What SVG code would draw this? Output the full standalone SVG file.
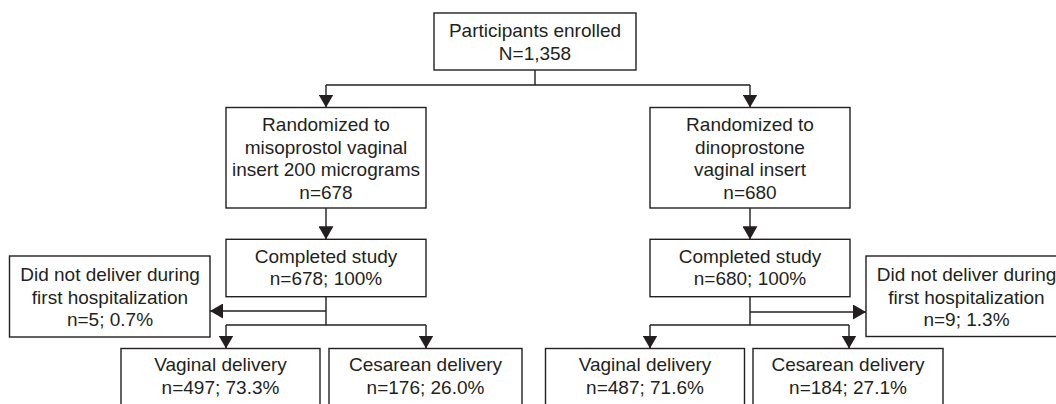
<svg xmlns="http://www.w3.org/2000/svg" width="1056" height="404" viewBox="0 0 1056 404">
<style>
.box{fill:#fff;stroke:#231f20;stroke-width:1.4}
.ln{fill:none;stroke:#231f20;stroke-width:1.4}
text{font-family:"Liberation Sans",Arial,Helvetica,sans-serif;font-size:19px;fill:#231f20;text-anchor:middle}
</style>
<defs>
<marker id="ah" markerUnits="userSpaceOnUse" markerWidth="13" markerHeight="15" viewBox="0 0 13 15" refX="13" refY="7.5" orient="auto">
<path d="M0,0 L13,7.5 L0,15 z" fill="#231f20"/>
</marker>
</defs>
<rect width="1056" height="404" fill="#fff"/>
<g id="connectors">
<path class="ln" d="M535,70 V85 M326,85 H750"/>
<path class="ln" d="M326,85 V107.5" marker-end="url(#ah)"/>
<path class="ln" d="M750,85 V107.5" marker-end="url(#ah)"/>
<path class="ln" d="M326,208 V239.3" marker-end="url(#ah)"/>
<path class="ln" d="M750,208 V239.3" marker-end="url(#ah)"/>
<path class="ln" d="M326,296.7 V325 M226,325 H426"/>
<path class="ln" d="M326,311 H210" marker-end="url(#ah)"/>
<path class="ln" d="M226,325 V348.5" marker-end="url(#ah)"/>
<path class="ln" d="M426,325 V348.5" marker-end="url(#ah)"/>
<path class="ln" d="M750,296.7 V325 M650,325 H849"/>
<path class="ln" d="M750,312 H866" marker-end="url(#ah)"/>
<path class="ln" d="M650,325 V348.5" marker-end="url(#ah)"/>
<path class="ln" d="M849,325 V348.5" marker-end="url(#ah)"/>
</g>
<g id="enrolled">
<rect class="box" x="434" y="13" width="202" height="57"/>
<text x="535" y="37">Participants enrolled</text>
<text x="535" y="59.5">N=1,358</text>
</g>
<g id="miso">
<rect class="box" x="226" y="107.5" width="200" height="100.5"/>
<text x="326" y="131">Randomized to</text>
<text x="326" y="153.5">misoprostol vaginal</text>
<text x="326" y="176">insert 200 micrograms</text>
<text x="326" y="198.5">n=678</text>
</g>
<g id="dino">
<rect class="box" x="650" y="107.5" width="200" height="100.5"/>
<text x="750" y="131">Randomized to</text>
<text x="750" y="153.5">dinoprostone</text>
<text x="750" y="176">vaginal insert</text>
<text x="750" y="198.5">n=680</text>
</g>
<g id="completed-left">
<rect class="box" x="226" y="239.3" width="200" height="57.4"/>
<text x="326" y="262.5">Completed study</text>
<text x="326" y="285">n=678; 100%</text>
</g>
<g id="completed-right">
<rect class="box" x="650" y="239.3" width="200" height="57.4"/>
<text x="750" y="262.5">Completed study</text>
<text x="750" y="285">n=680; 100%</text>
</g>
<g id="nodeliver-left">
<rect class="box" x="9.5" y="256" width="200.5" height="81"/>
<text x="110" y="281">Did not deliver during</text>
<text x="110" y="303.5">first hospitalization</text>
<text x="110" y="326">n=5; 0.7%</text>
</g>
<g id="nodeliver-right">
<rect class="box" x="866" y="256" width="201" height="80.5"/>
<text x="966.5" y="281">Did not deliver during</text>
<text x="966.5" y="303.5">first hospitalization</text>
<text x="966.5" y="326">n=9; 1.3%</text>
</g>
<g id="vaginal-left">
<rect class="box" x="121" y="348.5" width="199" height="70"/>
<text x="220.5" y="371">Vaginal delivery</text>
<text x="220.5" y="394">n=497; 73.3%</text>
</g>
<g id="cesarean-left">
<rect class="box" x="329" y="348.5" width="193" height="70"/>
<text x="425.5" y="371">Cesarean delivery</text>
<text x="425.5" y="394">n=176; 26.0%</text>
</g>
<g id="vaginal-right">
<rect class="box" x="545.5" y="348.5" width="199" height="70"/>
<text x="645" y="371">Vaginal delivery</text>
<text x="645" y="394">n=487; 71.6%</text>
</g>
<g id="cesarean-right">
<rect class="box" x="753" y="348.5" width="190" height="70"/>
<text x="848" y="371">Cesarean delivery</text>
<text x="848" y="394">n=184; 27.1%</text>
</g>
</svg>
